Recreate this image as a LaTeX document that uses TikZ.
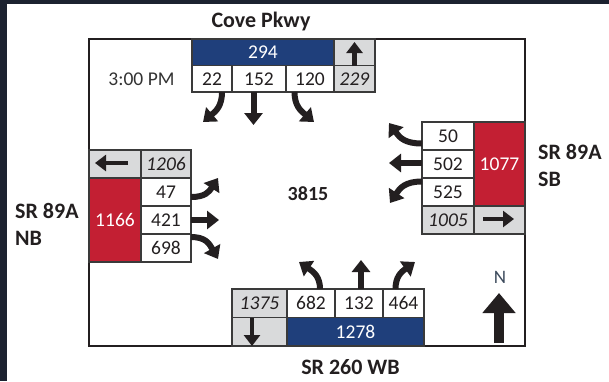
\documentclass[tikz,border=0pt]{standalone}
\usepackage{fontspec}
\setmainfont{Carlito}
\usetikzlibrary{arrows.meta}
\definecolor{tmblue}{HTML}{1F3F7B}
\definecolor{tmred}{HTML}{C31F33}
\definecolor{tmgrey}{HTML}{D9DADB}
\definecolor{cellline}{HTML}{3A3A3A}
\definecolor{ink}{HTML}{231F20}
\definecolor{framebg}{HTML}{1C2230}
\definecolor{compassn}{HTML}{3C4A5C}
\newcommand\tmnum{\fontsize{19.5}{21}\selectfont}
\newcommand\tmlbl{\fontsize{22}{27}\selectfont\bfseries}
\begin{document}
\begin{tikzpicture}[x=1pt,y=-1pt,
  cell/.style={draw=cellline, line width=1.2pt, inner sep=0pt, font=\tmnum, text=ink, fill=white},
  greycell/.style={cell, fill=tmgrey, font=\tmnum\itshape},
  bluecell/.style={cell, fill=tmblue, text=white},
  redcell/.style={cell, fill=tmred, text=white},
  lbl/.style={font=\tmlbl, text=ink, inner sep=0pt},
  move/.style={draw=ink, line width=6pt, -{Triangle[length=12pt,width=18pt]}},
  cellarrow/.style={draw=ink, line width=4.5pt, -{Triangle[length=11pt,width=16pt]}},
  compass/.style={draw=ink, line width=10pt, -{Triangle[length=20pt,width=32pt]}}
]
\useasboundingbox (0,0) rectangle (609,381);
\fill[white] (0,0) rectangle (609,381);
\fill[framebg] (0,0) rectangle (609,4);
\fill[framebg] (0,0) rectangle (7,381);

% outer frame
\draw[ink, line width=2.5pt] (89,39) rectangle (525,346);

% top box (Cove Pkwy)
\node[bluecell, minimum width=142pt, minimum height=26.5pt] (b294) at (263,52.25) {294};
\node[greycell, minimum width=41pt, minimum height=26.5pt] (gup) at (354.5,52.25) {};
\node[cell, minimum width=40pt, minimum height=26.5pt] (c22) at (212,78.75) {22};
\node[cell, minimum width=54pt, minimum height=26.5pt] (c152) at (259,78.75) {152};
\node[cell, minimum width=48pt, minimum height=26.5pt] (c120) at (310,78.75) {120};
\node[greycell, minimum width=41pt, minimum height=26.5pt] (c229) at (354.5,78.75) {229};

% left box (SR 89A NB)
\node[greycell, minimum width=52pt, minimum height=28pt] (gleft) at (115,164) {};
\node[greycell, minimum width=50pt, minimum height=28pt] (c1206) at (166,164) {1206};
\node[redcell, minimum width=52pt, minimum height=84pt] (r1166) at (115,220) {1166};
\node[cell, minimum width=50pt, minimum height=28pt] (c47) at (166,192) {47};
\node[cell, minimum width=50pt, minimum height=28pt] (c421) at (166,220) {421};
\node[cell, minimum width=50pt, minimum height=28pt] (c698) at (166,248) {698};

% right box (SR 89A SB)
\node[cell, minimum width=52pt, minimum height=28pt] (c50) at (448,136) {50};
\node[cell, minimum width=52pt, minimum height=28pt] (c502) at (448,164) {502};
\node[cell, minimum width=52pt, minimum height=28pt] (c525) at (448,192) {525};
\node[redcell, minimum width=51pt, minimum height=84pt] (r1077) at (499.5,164) {1077};
\node[greycell, minimum width=52pt, minimum height=28pt] (c1005) at (448,220) {1005};
\node[greycell, minimum width=51pt, minimum height=28pt] (gright) at (499.5,220) {};

% bottom box (SR 260 WB)
\node[greycell, minimum width=55pt, minimum height=28.5pt] (c1375) at (259.5,303.25) {1375};
\node[cell, minimum width=48pt, minimum height=28.5pt] (c682) at (311,303.25) {682};
\node[cell, minimum width=48pt, minimum height=28.5pt] (c132) at (359,303.25) {132};
\node[cell, minimum width=41pt, minimum height=28.5pt] (c464) at (403.5,303.25) {464};
\node[greycell, minimum width=55pt, minimum height=28.5pt] (gdown) at (259.5,331.75) {};
\node[bluecell, minimum width=137pt, minimum height=28.5pt] (b1278) at (355.5,331.75) {1278};

% cell arrows
\draw[cellarrow] (gup.south) -- (354.5,42);
\draw[cellarrow] (128,163) -- (95,163);
\draw[cellarrow] (483,219) -- (514,219);
\draw[cellarrow] (252,318) -- (252,346);

% movement arrows, top
\draw[move] (222,92) .. controls (222,106) and (216,111) .. (203,122);
\draw[move] (253.5,92) -- (253.5,125);
\draw[move] (294.5,92) .. controls (294.5,106) and (301,111) .. (314,122);

% movement arrows, left
\draw[move] (191,197) .. controls (205,197) and (209,192) .. (218,178);
\draw[move] (191,220) -- (219,220);
\draw[move] (191,237) .. controls (205,237) and (209,243) .. (218,259);

% movement arrows, right
\draw[move] (422,143.5) .. controls (405,143.5) and (400,138) .. (389,123);
\draw[move] (422,163) -- (389,163);
\draw[move] (422,181.5) .. controls (405,181.5) and (400,188) .. (390,203);

% movement arrows, bottom
\draw[move] (320,289) .. controls (320,277) and (314,272) .. (299,262);
\draw[move] (361,289) -- (361,260);
\draw[move] (395.5,289) .. controls (395.5,277) and (401,272) .. (415,262);

% texts
\node[lbl] (cove) at (261,21.5) {Cove Pkwy};
\node[lbl] (sr260) at (350.5,367) {SR 260 WB};
\node[lbl, align=left, anchor=west] (nb) at (15,224.5) {SR 89A\\NB};
\node[lbl, align=left, anchor=west] (sb) at (538,165) {SR 89A\\SB};
\node[font=\fontsize{20}{22}\selectfont\bfseries, text=ink, inner sep=0pt] (total) at (308,194) {3815};
\node[font=\fontsize{19.5}{21}\selectfont, text=black!80, inner sep=0pt] (time) at (141.5,79) {3:00 PM};

% north arrow
\node[font=\fontsize{19}{21}\selectfont, text=compassn, inner sep=0pt] (north) at (500,277.5) {N};
\coordinate (ntail) at (499,343);
\draw[compass] (ntail) -- (499,293);
\end{tikzpicture}
\end{document}
